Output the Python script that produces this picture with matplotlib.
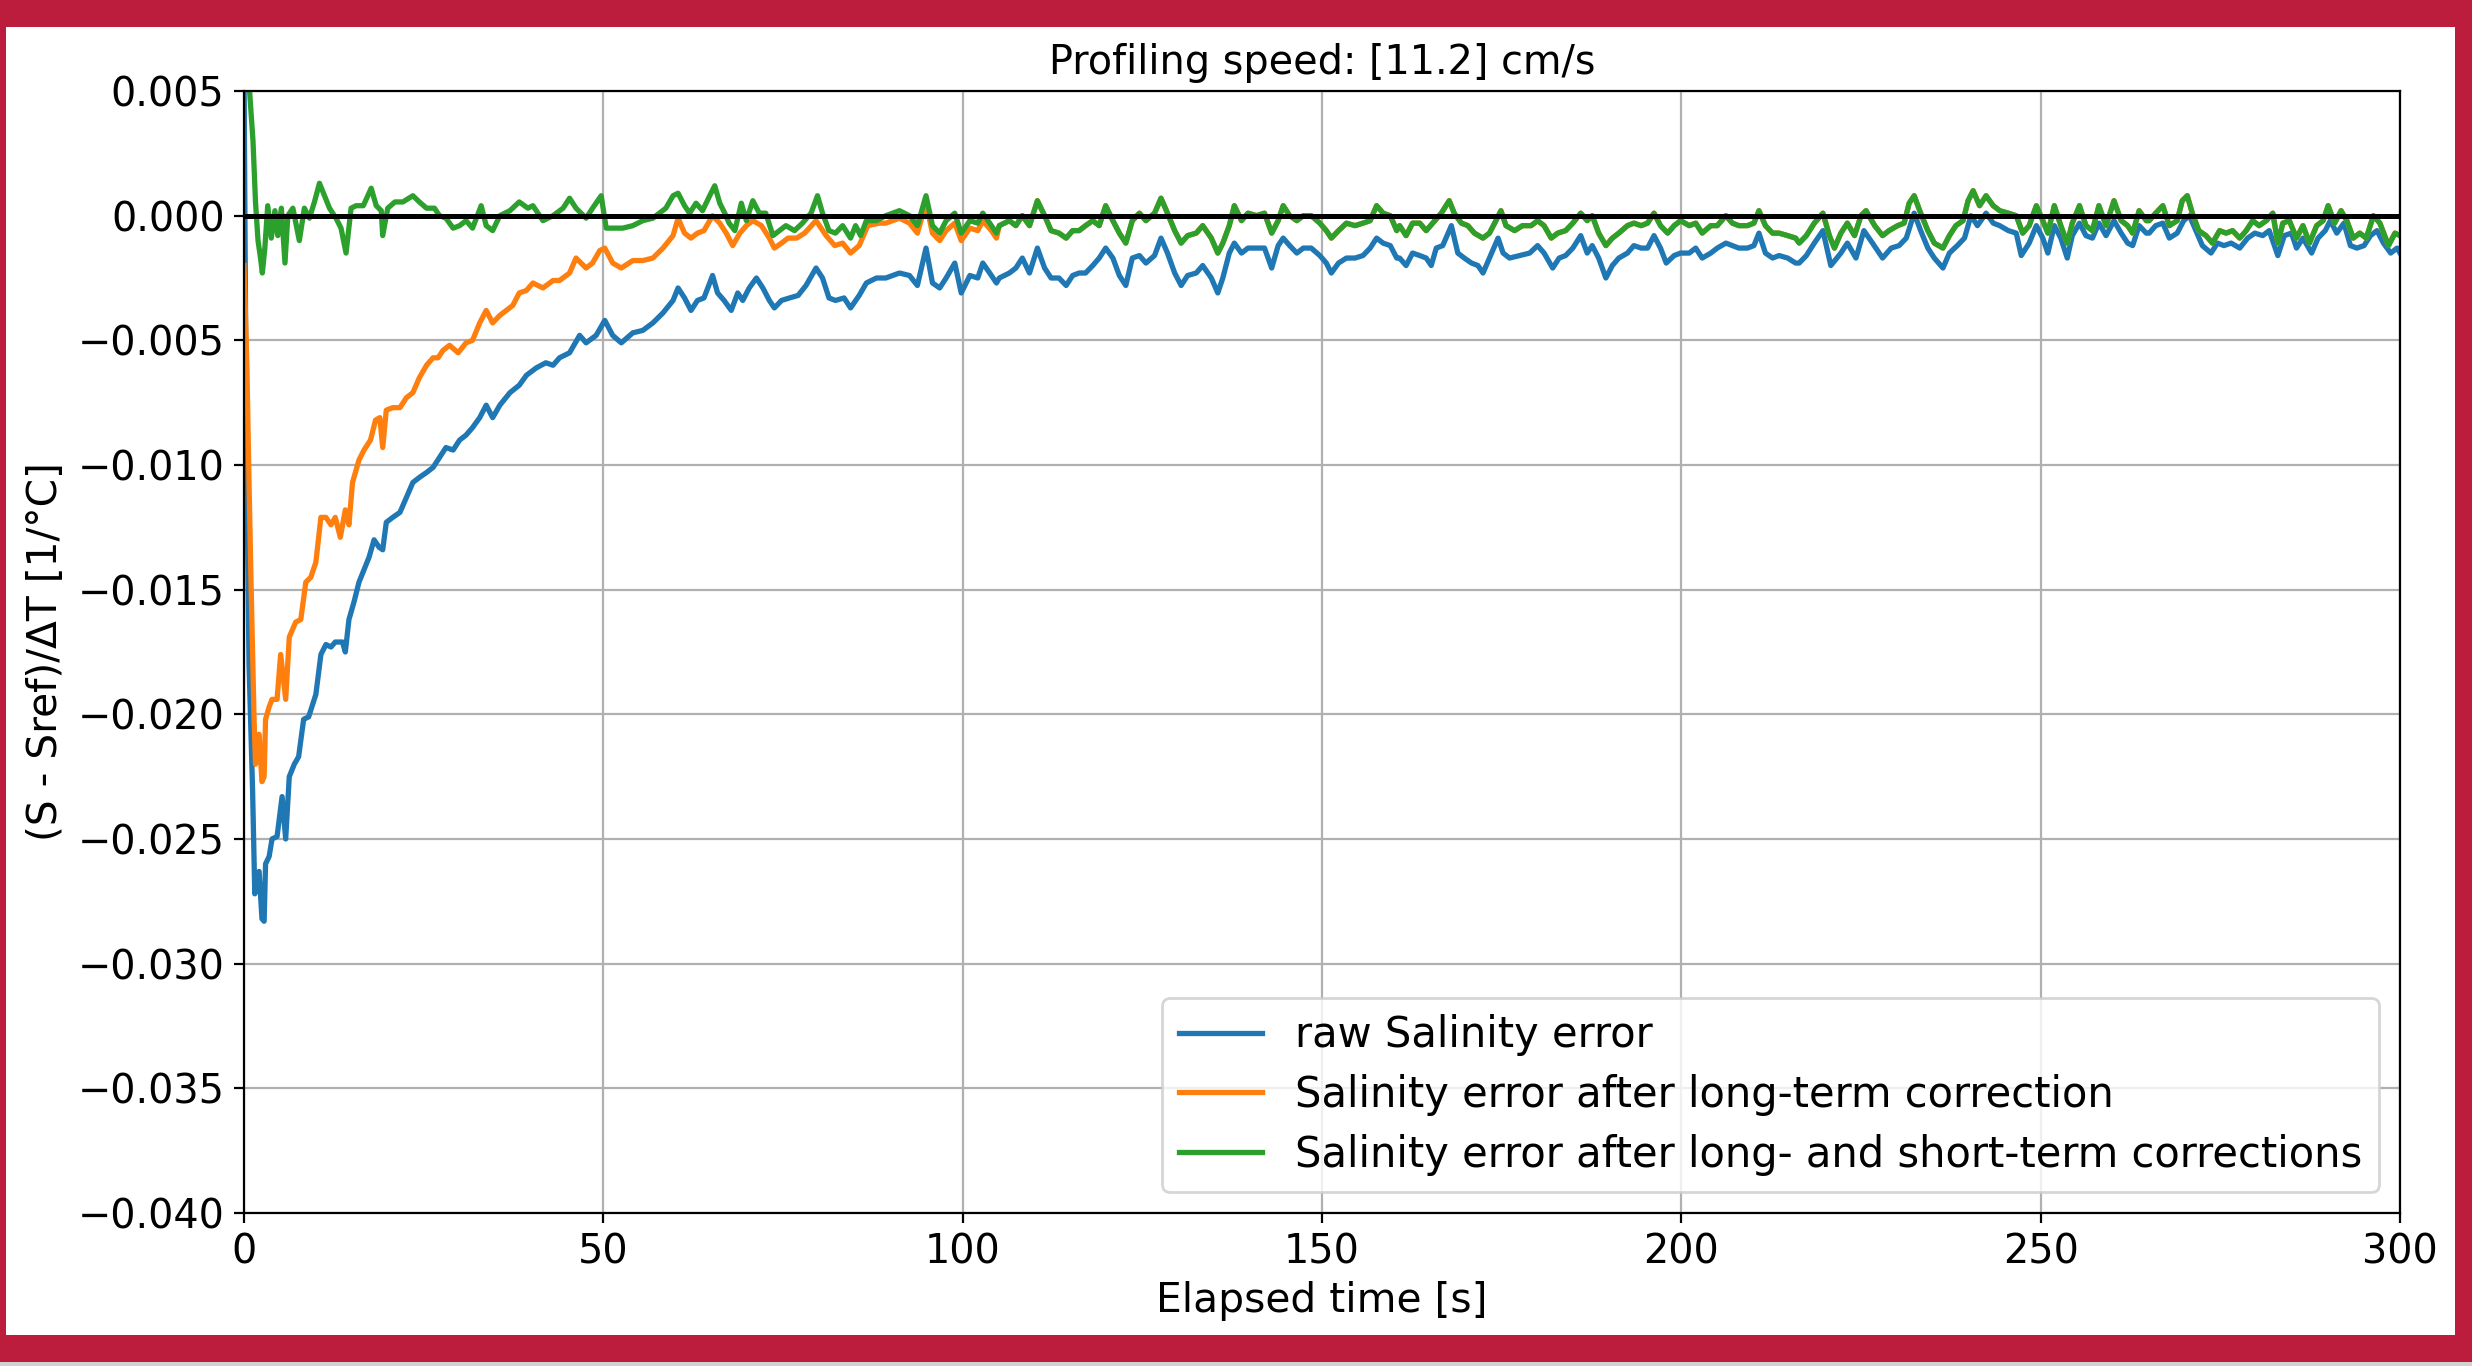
import numpy as np
import matplotlib
matplotlib.use("Agg")
import matplotlib.pyplot as plt
from matplotlib.patches import Rectangle

# ---------------- data (values in units of 1e-3 1/°C) ----------------
title_text = "Profiling speed: [11.2] cm/s"
series_labels = ["raw Salinity error",
                 "Salinity error after long-term correction",
                 "Salinity error after long- and short-term corrections"]
x_ticks = [0, 50, 100, 150, 200, 250, 300]
y_ticks = [0.005, 0.0, -0.005, -0.010, -0.015, -0.020, -0.025, -0.030, -0.035, -0.040]

# raw salinity error (blue)
raw_t_a = [0.0, 0.3, 0.7, 1.2, 1.5, 2.1, 2.5, 2.8, 3.0, 3.5, 3.9, 4.6, 5.3, 5.8, 6.3, 7.0, 7.6, 8.3, 9.0, 10.0,
           10.7, 11.4, 12.1, 12.7, 13.7, 14.1, 14.6, 15.3, 16.0, 16.7, 17.4, 18.1, 18.8, 19.3, 19.8, 20.7, 21.7,
           22.6, 23.5, 24.4, 25.4, 26.3, 27.2, 28.1, 29.1, 30.0, 30.9, 31.8, 32.8, 33.7, 34.6, 35.6, 37.0, 38.3,
           39.3, 40.7, 42.0, 43.0, 43.9, 45.3, 46.7, 47.6, 49.0, 50.2, 51.3, 52.5, 54.1, 55.5, 56.9, 58.3, 59.7, 60.4]
raw_v_a = [6.0, -8.0, -18.0, -23.1, -27.2, -26.3, -28.2, -28.3, -26.0, -25.7, -25.0, -24.9, -23.3, -25.0, -22.5,
           -22.0, -21.7, -20.2, -20.1, -19.2, -17.6, -17.2, -17.3, -17.1, -17.1, -17.5, -16.2, -15.5, -14.7, -14.2,
           -13.7, -13.0, -13.3, -13.4, -12.3, -12.1, -11.9, -11.3, -10.7, -10.5, -10.3, -10.1, -9.7, -9.3, -9.4,
           -9.0, -8.8, -8.5, -8.1, -7.6, -8.1, -7.6, -7.1, -6.8, -6.4, -6.1, -5.9, -6.0, -5.7, -5.5, -4.8, -5.1,
           -4.8, -4.2, -4.8, -5.1, -4.7, -4.6, -4.3, -3.9, -3.4, -2.9]
raw_t_b = [61.3, 62.2, 63.1, 64.0, 65.2, 65.9, 66.8, 67.8, 68.7, 69.4, 70.3, 71.3, 72.2, 73.1, 73.8, 74.8, 75.9,
           77.1, 78.2, 79.6, 80.5, 81.4, 82.3, 83.5, 84.4, 85.6, 86.6, 88.0, 89.3, 91.2, 92.6, 93.7, 94.9, 95.8,
           96.8, 97.7, 98.9, 99.8, 101.0, 102.1, 102.8, 104.0, 104.7]
raw_v_b = [-3.3, -3.8, -3.4, -3.3, -2.4, -3.1, -3.4, -3.8, -3.1, -3.4, -2.9, -2.5, -2.9, -3.4, -3.7, -3.4, -3.3,
           -3.2, -2.8, -2.1, -2.5, -3.3, -3.4, -3.3, -3.7, -3.2, -2.7, -2.5, -2.5, -2.3, -2.4, -2.8, -1.3, -2.7,
           -2.9, -2.5, -1.9, -3.1, -2.4, -2.5, -1.9, -2.4, -2.7]
raw_t_c = [105.1, 106.5, 107.4, 108.3, 109.3, 110.4, 111.4, 112.3, 113.4, 114.4, 115.3, 116.2, 117.1, 118.1,
           119.0, 119.9, 120.9, 121.8, 122.7, 123.6, 124.6, 125.5, 126.7, 127.6, 128.5, 129.5, 130.4, 131.3,
           132.5, 133.4, 134.6, 135.5, 136.2, 137.1, 137.8, 138.8, 139.7, 140.9, 142.0, 143.0, 143.9, 144.6,
           145.5, 146.5, 147.4, 148.5, 149.7, 150.6, 151.3, 152.3, 153.4, 154.6, 155.7, 156.7, 157.6, 158.5,
           159.5, 160.4]
raw_v_c = [-2.5, -2.3, -2.1, -1.7, -2.3, -1.3, -2.1, -2.5, -2.5, -2.8, -2.4, -2.3, -2.3, -2.0, -1.7, -1.3, -1.7,
           -2.4, -2.8, -1.7, -1.6, -1.9, -1.6, -0.9, -1.5, -2.3, -2.8, -2.4, -2.3, -2.0, -2.5, -3.1, -2.5, -1.5,
           -1.1, -1.5, -1.3, -1.3, -1.3, -2.1, -1.2, -0.9, -1.2, -1.5, -1.3, -1.3, -1.6, -1.9, -2.3, -1.9, -1.7,
           -1.7, -1.6, -1.3, -0.9, -1.1, -1.2, -1.7]
raw_t_d = [160.8, 161.7, 162.6, 163.6, 164.5, 165.2, 165.9, 166.8, 168.0, 168.9, 169.8, 170.8, 171.7, 172.4,
           173.3, 174.5, 175.2, 176.1, 177.5, 178.9, 180.0, 180.9, 182.1, 183.0, 183.9, 184.9, 186.0, 186.9,
           187.6, 188.5, 189.5, 190.4, 191.3, 192.5, 193.4, 194.4, 195.3, 196.2, 197.1, 197.9, 199.0, 199.9,
           201.1, 202.0, 202.9, 204.1, 205.0, 206.2, 207.1, 208.0, 209.2, 210.1, 210.8, 211.7, 212.7, 213.6,
           214.8, 215.9]
raw_v_d = [-1.7, -2.0, -1.5, -1.6, -1.7, -2.0, -1.3, -1.2, -0.4, -1.5, -1.7, -1.9, -2.0, -2.3, -1.7, -0.9, -1.5,
           -1.7, -1.6, -1.5, -1.2, -1.5, -2.1, -1.7, -1.6, -1.3, -0.8, -1.5, -1.2, -1.7, -2.5, -2.0, -1.7, -1.5,
           -1.2, -1.3, -1.3, -0.8, -1.3, -1.9, -1.6, -1.5, -1.5, -1.3, -1.7, -1.5, -1.3, -1.1, -1.2, -1.3, -1.3,
           -1.2, -0.7, -1.5, -1.7, -1.6, -1.7, -1.9]
raw_t_e = [216.4, 217.4, 218.5, 219.7, 220.8, 222.2, 223.1, 224.3, 225.4, 226.6, 228.0, 229.2, 230.3, 231.3,
           232.4, 233.3, 234.3, 235.2, 236.4, 237.3, 238.4, 239.4, 240.3, 241.2, 242.4, 243.4, 244.3, 245.5,
           246.6, 247.3, 248.4, 249.4, 250.3, 251.0, 251.9, 252.8, 253.7, 254.4, 255.4, 256.3, 257.2, 258.1,
           259.1, 260.2, 261.2, 262.1, 262.8, 263.7, 264.7]
raw_v_e = [-1.9, -1.6, -1.1, -0.6, -2.0, -1.5, -1.1, -1.7, -0.6, -1.1, -1.7, -1.3, -1.2, -0.9, 0.1, -0.6, -1.3,
           -1.7, -2.1, -1.5, -1.2, -0.9, 0.0, -0.4, 0.1, -0.3, -0.4, -0.6, -0.7, -1.6, -1.1, -0.4, -0.9, -1.5,
           -0.4, -0.9, -1.7, -0.8, -0.3, -0.8, -0.9, -0.3, -0.8, -0.2, -0.7, -1.1, -1.2, -0.4, -0.7]
raw_t_f = [265.1, 266.0, 267.0, 267.9, 269.0, 269.9, 270.7, 271.6, 272.5, 273.7, 274.6, 275.5, 276.5, 277.7,
           278.8, 279.8, 280.9, 281.8, 283.0, 283.9, 284.9, 285.6, 286.5, 287.7, 288.6, 289.6, 290.3, 291.2,
           292.2, 293.1, 294.0, 295.0, 295.9, 296.8, 297.7, 298.7, 299.6, 300.0]
raw_v_f = [-0.7, -0.4, -0.3, -0.9, -0.7, -0.2, 0.0, -0.6, -1.2, -1.5, -1.1, -1.2, -1.1, -1.3, -0.9, -0.7, -0.8,
           -0.6, -1.6, -0.8, -0.7, -1.3, -0.9, -1.5, -0.9, -0.6, -0.2, -0.7, -0.3, -1.2, -1.3, -1.2, -0.8, -0.6,
           -1.1, -1.5, -1.3, -1.5]

# after long-term correction (orange), first 105 s; afterwards it coincides with the green trace
long_t_a = [0.0, 0.4, 0.7, 1.0, 1.4, 1.6, 2.1, 2.5, 2.8, 3.0, 3.5, 3.9, 4.6, 5.1, 5.8, 6.3, 7.2, 7.9, 8.6, 9.3,
            10.0, 10.7, 11.4, 12.1, 12.7, 13.4, 14.1, 14.6, 15.1, 16.0, 16.7, 17.6, 18.3, 18.9, 19.3, 19.8, 20.7,
            21.7, 22.6, 23.5, 24.4, 25.4, 26.3, 27.0, 27.7, 28.6, 29.8, 30.9, 31.8, 32.8, 33.7, 34.6, 35.6, 36.5,
            37.4, 38.3, 39.3, 40.2, 41.6, 43.0, 43.9, 45.3, 46.2, 47.6, 48.5, 49.5, 50.2, 51.3, 52.5, 54.1, 55.5,
            56.9, 58.3, 59.7, 60.4, 61.3, 62.2, 63.1, 64.0, 65.2, 66.2, 67.1, 68.0, 69.0, 69.9, 70.8, 72.0, 73.1,
            73.8, 74.8, 75.7, 76.9, 78.0, 79.6, 81.0, 82.2, 83.3, 84.4, 85.6, 86.8, 88.4, 89.3, 91.2, 92.6, 93.7,
            94.9, 95.8, 96.8, 97.7, 98.9, 99.8, 101.0, 102.1, 102.8, 104.0, 104.7]
long_v_a = [-2.0, -6.0, -10.7, -15.0, -20.2, -22.0, -20.8, -22.7, -22.5, -20.2, -19.7, -19.4, -19.4, -17.6, -19.4,
            -16.9, -16.3, -16.2, -14.7, -14.5, -13.9, -12.1, -12.1, -12.4, -12.1, -12.9, -11.8, -12.4, -10.7, -9.8,
            -9.4, -9.0, -8.2, -8.1, -9.3, -7.8, -7.7, -7.7, -7.3, -7.1, -6.5, -6.0, -5.7, -5.7, -5.4, -5.2, -5.5,
            -5.1, -5.0, -4.3, -3.8, -4.3, -4.0, -3.8, -3.6, -3.1, -3.0, -2.7, -2.9, -2.6, -2.6, -2.3, -1.7, -2.1,
            -1.9, -1.4, -1.3, -1.9, -2.1, -1.8, -1.8, -1.7, -1.3, -0.8, -0.1, -0.7, -0.9, -0.7, -0.6, 0.0, -0.3,
            -0.7, -1.2, -0.7, -0.4, -0.2, -0.4, -0.9, -1.3, -1.1, -0.9, -0.9, -0.7, -0.2, -0.8, -1.2, -1.1, -1.5,
            -1.2, -0.4, -0.3, -0.3, -0.1, -0.3, -0.7, 0.5, -0.7, -1.0, -0.6, -0.3, -1.0, -0.5, -0.6, -0.2, -0.6,
            -0.9]

# after long- and short-term corrections (green)
both_t_a = [0.0, 0.8, 1.25, 1.6, 1.95, 2.3, 2.55, 2.9, 3.3, 3.8, 4.3, 4.7, 5.2, 5.7, 6.1, 6.8, 7.7, 8.4, 9.1, 9.8,
            10.5, 11.2, 11.9, 12.8, 13.5, 14.2, 14.9, 15.6, 16.6, 17.7, 18.4, 19.1, 19.3, 20.0, 21.0, 22.1, 23.5,
            24.4, 25.4, 26.5, 27.2, 28.1, 29.1, 30.0, 30.9, 31.8, 33.0, 33.7, 34.6, 35.6, 37.0, 38.3, 39.5, 40.2,
            41.6, 43.0, 44.4, 45.3, 46.2, 47.6, 48.5, 49.7, 50.4, 51.3, 52.7, 54.1, 55.5, 56.9, 58.7, 59.7, 60.4,
            61.3, 62.0, 62.9, 63.8, 64.8, 65.5, 66.2, 66.9, 67.5, 68.3, 69.2, 69.9, 70.8, 71.7, 72.6, 73.6, 74.5,
            75.4, 76.6, 77.7, 78.9, 79.8, 80.5, 81.4, 82.3, 83.3, 84.4, 85.1, 85.8, 86.6, 88.0, 89.3, 91.2, 92.6,
            93.7, 94.9, 95.8, 96.8, 97.7, 98.9, 99.8, 101.0, 102.1, 102.8, 104.0, 104.7]
both_v_a = [8.0, 4.9, 3.0, 0.55, -1.0, -1.7, -2.3, -1.3, 0.4, -0.9, 0.2, -0.8, 0.3, -1.9, 0.0, 0.3, -1.0, 0.3,
            -0.1, 0.55, 1.3, 0.8, 0.3, -0.1, -0.5, -1.5, 0.3, 0.4, 0.4, 1.1, 0.4, 0.2, -0.8, 0.3, 0.55, 0.55, 0.8,
            0.55, 0.3, 0.3, 0.0, -0.1, -0.5, -0.4, -0.2, -0.5, 0.4, -0.4, -0.6, 0.0, 0.2, 0.55, 0.3, 0.4, -0.2,
            0.0, 0.3, 0.7, 0.3, -0.1, 0.3, 0.8, -0.5, -0.5, -0.5, -0.4, -0.2, -0.1, 0.3, 0.8, 0.9, 0.4, 0.1, 0.5,
            0.2, 0.8, 1.2, 0.5, 0.1, -0.3, -0.6, 0.5, -0.2, 0.6, 0.1, 0.1, -0.8, -0.6, -0.4, -0.6, -0.3, 0.1, 0.8,
            0.1, -0.6, -0.7, -0.4, -0.9, -0.4, -0.8, -0.2, -0.2, 0.0, 0.2, 0.0, -0.4, 0.8, -0.4, -0.7, -0.2, 0.1,
            -0.7, -0.2, -0.3, 0.1, -0.4, -0.7]
both_t_b = raw_t_c
both_v_b = [-0.4, -0.2, -0.4, 0.0, -0.4, 0.6, 0.0, -0.6, -0.7, -0.9, -0.6, -0.6, -0.4, -0.2, -0.4, 0.4, -0.2, -0.7,
            -1.1, -0.2, 0.1, -0.2, 0.1, 0.7, 0.1, -0.6, -1.1, -0.8, -0.7, -0.4, -0.9, -1.5, -1.1, -0.4, 0.4, -0.2,
            0.1, 0.0, 0.1, -0.7, -0.2, 0.4, 0.0, -0.2, 0.0, 0.0, -0.3, -0.6, -0.9, -0.6, -0.3, -0.4, -0.3, -0.2,
            0.4, 0.1, 0.0, -0.6]
both_t_c = [160.8, 161.7, 162.6, 163.6, 164.5, 165.4, 166.6, 167.7, 168.4, 169.4, 170.3, 171.2, 172.4, 173.3,
            174.2, 174.9, 175.6, 176.8, 177.9, 179.1, 180.0, 180.9, 181.9, 182.8, 183.9, 184.9, 186.0, 186.9,
            187.6, 188.5, 189.5, 190.4, 191.3, 192.5, 193.4, 194.4, 195.3, 196.2, 197.1, 198.1, 199.0, 199.9,
            201.1, 202.0, 202.9, 204.1, 205.0, 206.2, 207.1, 208.0, 209.2, 210.1, 210.8, 211.7, 212.7, 213.6,
            214.8, 215.9]
both_v_c = [-0.4, -0.8, -0.3, -0.3, -0.6, -0.3, 0.1, 0.6, 0.1, -0.3, -0.4, -0.7, -0.9, -0.7, -0.2, 0.2, -0.4,
            -0.6, -0.4, -0.4, -0.2, -0.4, -0.9, -0.7, -0.6, -0.3, 0.1, -0.2, 0.0, -0.7, -1.2, -0.9, -0.7, -0.4,
            -0.3, -0.4, -0.3, 0.1, -0.4, -0.7, -0.4, -0.2, -0.4, -0.3, -0.7, -0.4, -0.4, 0.0, -0.3, -0.4, -0.4,
            -0.3, 0.2, -0.4, -0.7, -0.7, -0.8, -0.9]
both_t_d = [216.4, 217.4, 218.5, 219.7, 220.6, 221.3, 222.2, 223.1, 224.1, 225.0, 225.7, 226.9, 228.0, 228.9,
            230.1, 231.0, 231.7, 232.4, 233.3, 234.3, 235.2, 236.4, 237.3, 238.2, 239.2, 239.9, 240.6, 241.5,
            242.4, 243.4, 244.3, 245.5, 246.6, 247.5, 248.4, 249.4, 250.3, 251.0, 251.9, 252.8, 253.7, 254.4,
            255.4, 256.3, 257.2, 258.1, 259.1, 260.2, 261.2, 262.1, 262.8, 263.7, 264.7]
both_v_d = [-1.1, -0.8, -0.3, 0.1, -0.8, -1.3, -0.7, -0.3, -0.8, 0.0, 0.2, -0.4, -0.8, -0.6, -0.4, -0.3, 0.5, 0.8,
            0.1, -0.6, -1.1, -1.3, -0.8, -0.4, -0.2, 0.6, 1.0, 0.4, 0.8, 0.4, 0.2, 0.1, 0.0, -0.7, -0.4, 0.4,
            -0.2, -0.7, 0.4, -0.4, -1.1, -0.3, 0.4, -0.4, -0.6, 0.4, -0.4, 0.6, -0.2, -0.4, -0.7, 0.2, -0.2]
both_t_e = [265.1, 266.0, 267.0, 267.9, 269.0, 269.7, 270.4, 271.1, 272.0, 273.0, 273.9, 274.9, 275.8, 276.7,
            277.7, 278.6, 279.5, 280.4, 281.4, 282.3, 283.0, 283.7, 284.6, 285.6, 286.5, 287.4, 288.4, 289.3,
            290.0, 290.9, 291.8, 292.6, 293.5, 294.4, 295.3, 296.3, 297.2, 298.4, 299.3, 300.0]
both_v_e = [-0.2, 0.1, 0.4, -0.4, -0.2, 0.6, 0.8, 0.1, -0.6, -0.8, -1.1, -0.6, -0.7, -0.6, -0.9, -0.6, -0.2, -0.4,
            -0.2, 0.1, -1.1, -0.3, -0.2, -0.9, -0.4, -1.1, -0.4, -0.2, 0.4, -0.3, 0.2, -0.2, -0.9, -0.7, -0.9, 0.0,
            -0.3, -1.2, -0.7, -0.8]

# ---------------- assemble series ----------------
raw_t = raw_t_a + raw_t_b + raw_t_c + raw_t_d + raw_t_e + raw_t_f
raw_v = raw_v_a + raw_v_b + raw_v_c + raw_v_d + raw_v_e + raw_v_f
both_t = both_t_a + both_t_b + both_t_c + both_t_d + both_t_e
both_v = both_v_a + both_v_b + both_v_c + both_v_d + both_v_e
long_t = long_t_a + both_t_b + both_t_c + both_t_d + both_t_e
long_v = long_v_a + both_v_b + both_v_c + both_v_d + both_v_e

unit = 1e-3

# ---------------- figure ----------------
FS_TICK = 14.3
FS_TITLE = 14.3
FS_LABEL = 14.7
FS_LEGEND = 15.0
LW = 1.9

fig = plt.figure(figsize=(12.36, 6.83), dpi=200)
fig.patch.set_facecolor('#bc1d3c')
fig.add_artist(Rectangle((6 / 2472, 1 - 1335 / 1366), (2455 - 6) / 2472, (1335 - 27) / 1366,
                         transform=fig.transFigure, facecolor='white', edgecolor='none', zorder=-5))
fig.add_artist(Rectangle((0, 0), 1, 4 / 1366, transform=fig.transFigure,
                         facecolor='#d2d2d2', edgecolor='none', zorder=-5))

ax = fig.add_axes([244 / 2472, 1 - 1213 / 1366, (2400 - 244) / 2472, (1213 - 91) / 1366])
ax.set_facecolor('white')

ax.plot(raw_t, np.array(raw_v) * unit, color='#1f77b4', lw=LW, label=series_labels[0])
ax.plot(long_t, np.array(long_v) * unit, color='#ff7f0e', lw=LW, label=series_labels[1])
ax.plot(both_t, np.array(both_v) * unit, color='#2ca02c', lw=LW, label=series_labels[2])
ax.axhline(0, color='black', lw=1.8, zorder=5)

ax.set_xlim(0, 300)
ax.set_ylim(-0.040, 0.005)
ax.set_xticks(x_ticks)
ax.set_yticks(y_ticks)
ax.tick_params(labelsize=FS_TICK)
ax.grid(True, color='#b0b0b0', lw=0.8)
ax.set_axisbelow(True)

ax.set_title(title_text, fontsize=FS_TITLE, pad=6)
ax.set_xlabel("Elapsed time [s]", fontsize=FS_LABEL, labelpad=3)
ax.set_ylabel("(S - Sref)/ΔT [1/°C]", fontsize=FS_LABEL, labelpad=4)

ax.legend(loc='lower right', fontsize=FS_LEGEND, handlelength=2.0, labelspacing=0.42)

fig.savefig("out.png", dpi=200, facecolor=fig.get_facecolor())
